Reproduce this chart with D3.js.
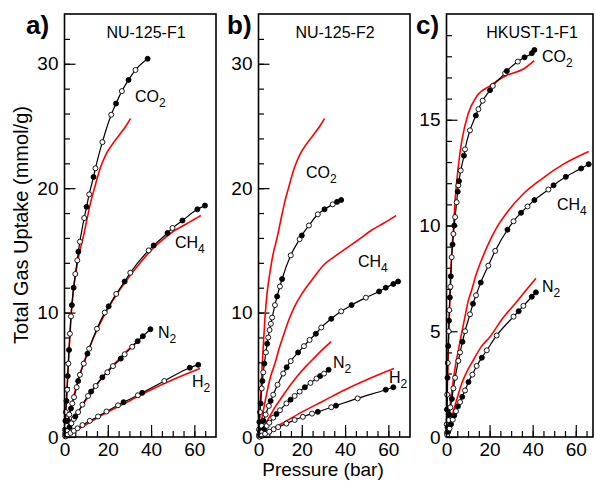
<!DOCTYPE html>
<html>
<head>
<meta charset="utf-8">
<title>Gas uptake</title>
<style>
  body { margin: 0; background: #fff; }
  svg { display: block; font-family: "Liberation Sans", Arial, sans-serif; }
  .tick text { font-size: 19px; fill: #000; }
  .tick line { stroke: #000; stroke-width: 1.2; }
</style>
</head>
<body>
<svg></svg>
<script src="https://d3js.org/d3.v7.min.js"></script>
<script>
// ---- data: [pressure (bar), uptake (mmol/g), filled?] ----
const aCO2 = [[0.2,0.6,0],[0.4,1.3,1],[0.6,2.0,0],[0.9,2.9,1],[1.2,3.8,0],[1.5,4.9,1],[1.8,5.9,0],[2.1,7.0,1],[2.5,8.3,0],[3.0,9.7,0],[3.4,10.6,1],[4.2,12.0,1],[5.0,13.1,0],[5.9,14.2,0],[6.4,14.9,1],[7.1,15.7,0],[9.1,17.6,0],[10.2,18.5,1],[11.4,19.5,0],[13.4,20.9,1],[14.3,21.6,0],[17.5,23.7,0],[21.6,25.9,0],[23.8,26.8,1],[26.5,27.8,0],[29.6,28.7,1],[32.8,29.5,0],[38.4,30.4,1]];
const aCH4 = [[0.3,0.3,0],[0.7,0.6,1],[1.1,0.9,0],[1.6,1.3,1],[2.2,1.8,0],[3.0,2.3,1],[3.6,2.7,0],[4.4,3.2,0],[5.6,4.0,0],[6.3,4.5,1],[7.1,5.0,0],[8.9,5.9,0],[10.6,6.7,1],[11.4,7.1,0],[15.0,8.7,0],[18.6,10.0,0],[20.4,10.5,1],[23.9,11.5,0],[27.8,12.5,1],[30.4,13.2,0],[38.9,15.0,0],[41.2,15.4,1],[47.6,16.4,1],[49.9,16.8,0],[54.5,17.4,1],[61.4,18.3,1],[64.9,18.6,1]];
const aN2 = [[0.3,0.1,0],[0.8,0.3,1],[1.5,0.5,0],[2.3,0.8,1],[3.2,1.1,0],[4.3,1.45,0],[5.0,1.65,1],[6.3,2.0,0],[8.3,2.6,0],[10.9,3.3,0],[12.3,3.65,1],[14.4,4.1,0],[17.5,4.8,1],[19.8,5.2,0],[22.4,5.7,0],[26.0,6.3,1],[27.8,6.65,0],[31.3,7.25,0],[33.8,7.7,1],[36.2,8.1,1],[39.7,8.66,1]];
const aH2 = [[0.5,0.05,0],[1.5,0.18,0],[2.8,0.33,0],[4.3,0.5,0],[6.0,0.7,0],[8.3,0.96,0],[11.7,1.3,0],[15.5,1.65,0],[19.4,2.05,0],[24.7,2.55,0],[27.3,2.8,1],[33.9,3.35,0],[35.9,3.55,1],[46.1,4.5,0],[57.9,5.57,1],[61.8,5.8,1]];

const bCO2 = [[0.2,0.6,0],[0.4,1.2,1],[0.7,2.0,0],[1.0,2.7,1],[1.5,3.9,0],[1.8,4.5,1],[2.2,5.2,0],[2.7,5.9,1],[3.4,6.8,0],[4.0,7.5,1],[4.5,8.0,0],[5.1,8.6,0],[5.7,9.1,0],[6.3,9.6,0],[7.6,10.6,0],[8.6,11.3,1],[9.9,12.1,0],[10.9,12.7,1],[14.9,14.6,0],[19.0,15.9,0],[20.0,16.2,1],[23.3,17.0,0],[27.4,17.9,0],[30.5,18.3,1],[34.3,18.7,0],[36.3,18.9,1],[38.2,19.05,1]];
const bCH4 = [[0.3,0.2,0],[0.8,0.5,1],[1.5,0.9,0],[2.3,1.3,1],[3.3,1.8,0],[4.8,2.5,0],[5.6,2.9,1],[6.8,3.4,0],[8.8,4.2,0],[11.4,5.1,0],[13.0,5.6,1],[14.9,6.1,0],[18.3,6.8,1],[21.0,7.3,0],[23.6,7.8,0],[26.5,8.3,1],[29.0,8.8,0],[33.6,9.5,1],[38.2,10.1,0],[43.0,10.6,1],[49.6,11.2,0],[55.7,11.7,1],[58.8,12.0,1],[62.3,12.3,1],[64.5,12.5,1]];
const bN2 = [[0.3,0.05,0],[0.9,0.2,1],[1.7,0.4,0],[2.7,0.65,1],[3.8,0.9,0],[5.0,1.15,0],[6.8,1.55,0],[8.3,1.85,1],[9.9,2.15,0],[12.9,2.7,0],[14.8,3.0,1],[16.7,3.3,0],[19.0,3.65,0],[21.4,4.0,1],[24.0,4.35,0],[26.8,4.7,0],[28.5,4.9,1],[30.3,5.1,0],[32.4,5.4,1]];
const bH2 = [[0.5,0.03,0],[1.5,0.1,0],[3.0,0.25,0],[5.0,0.43,0],[7.0,0.62,0],[9.1,0.8,0],[12.9,1.08,0],[16.7,1.37,0],[20.5,1.62,0],[24.7,1.88,0],[27.4,2.02,1],[33.6,2.39,0],[35.8,2.52,1],[45.8,3.1,0],[58.8,3.8,1],[62.3,4.0,1]];

const cCO2 = [[0.1,0.6,0],[0.2,1.3,1],[0.3,2.0,0],[0.45,2.8,1],[0.6,3.5,0],[0.8,4.3,1],[1.0,5.0,0],[1.15,5.5,1],[1.3,6.0,0],[1.55,6.6,1],[1.8,7.1,0],[2.0,7.6,1],[2.4,8.5,0],[2.8,9.1,1],[3.2,9.6,0],[3.6,10.0,1],[4.0,10.4,0],[4.7,11.1,0],[5.2,11.6,1],[5.5,11.9,0],[5.8,12.1,1],[6.6,12.6,0],[8.1,13.3,1],[8.6,13.6,0],[10.9,14.5,0],[13.6,15.2,1],[14.8,15.5,0],[16.8,15.9,0],[20.2,16.4,1],[21.5,16.6,0],[27.2,17.2,0],[28.0,17.3,1],[33.1,17.75,0],[36.2,17.95,1],[39.6,18.15,1],[40.8,18.3,1]];
const cCH4 = [[0.2,0.2,0],[0.5,0.45,1],[0.9,0.8,0],[1.3,1.05,1],[1.8,1.4,0],[2.5,1.8,1],[3.2,2.3,0],[4.0,2.8,0],[5.5,3.6,0],[6.3,4.0,0],[7.4,4.5,1],[8.6,5.0,0],[10.9,5.8,0],[12.3,6.3,1],[13.7,6.7,0],[15.9,7.3,1],[19.4,8.1,0],[22.6,8.8,0],[28.3,9.8,1],[31.1,10.2,0],[34.6,10.6,1],[37.6,10.9,0],[40.8,11.2,1],[47.3,11.7,0],[49.7,11.9,1],[55.4,12.3,1],[62.5,12.7,1],[66.0,12.9,1]];
const cN2 = [[0.3,0.1,0],[0.8,0.25,1],[1.4,0.4,0],[2.1,0.6,1],[2.9,0.82,0],[3.6,1.02,1],[4.4,1.22,0],[5.3,1.45,1],[6.3,1.65,0],[7.3,1.9,1],[8.6,2.2,0],[10.2,2.6,1],[12.0,2.95,0],[14.0,3.36,0],[16.4,3.75,1],[18.7,4.1,0],[23.3,4.8,0],[31.1,5.69,0],[33.5,5.95,1],[35.7,6.2,0],[39.6,6.63,1],[41.5,6.84,1]];

// simulated isotherms (red): [pressure, uptake]
const simCO2 = [[0,0],[1,3.3],[2,6.7],[3,9.6],[4,11.6],[5,12.9],[6,14.0],[7,14.9],[8.3,15.8],[10.5,17.6],[12,18.8],[14,20.1],[16.5,21.6],[19.4,22.8],[22,23.5],[25,24.2],[28,24.9],[30.5,25.6]];
const simCH4a = [[0,0],[2,1.6],[4,3.1],[6,4.4],[8,5.5],[10,6.5],[12,7.4],[15,8.6],[20,10.3],[25,11.7],[30,12.9],[35,14.0],[40,15.0],[45,15.8],[50,16.5],[55,17.0],[60,17.5],[63,17.8]];
const simCH4b = [[0,0],[2,1.9],[3.8,3.5],[5.5,4.8],[7.6,5.9],[9.5,7.1],[11.4,8.1],[14,9.4],[16.7,10.5],[20,11.5],[25.9,12.9],[30,13.8],[35.1,14.5],[40,15.1],[46.6,15.9],[52,16.6],[58,17.2],[63.6,17.8]];
const simN2 = [[0,0],[2,0.65],[4,1.3],[6,1.9],[8,2.5],[10,3.0],[14,4.0],[18,4.9],[22,5.7],[26,6.4],[30,7.1],[33.6,7.66]];
const simH2 = [[0,0],[5,0.5],[10,1.0],[20,2.0],[30,2.9],[40,3.8],[50,4.6],[62.6,5.5]];
const cSimCO2 = [[0,0],[0.5,2.8],[1.0,4.7],[1.3,5.6],[1.95,7.7],[2.5,8.8],[3.2,9.8],[4.0,11.2],[5.5,12.8],[7.1,14.0],[10.1,15.3],[14,16.1],[20.2,16.6],[28,17.1],[35.7,17.4],[40.7,17.8]];
const cSimCH4 = [[0,0],[1,0.9],[2,1.8],[3.2,2.7],[4.2,3.4],[5.5,4.1],[7,4.9],[8.6,5.7],[10,6.4],[11.7,6.95],[13.5,7.6],[15.6,8.2],[18,8.8],[20.2,9.3],[23.3,9.9],[28.7,10.7],[35.7,11.5],[43.5,12.15],[54.3,12.9],[66,13.5]];
const cSimN2 = [[0,0],[2,0.8],[4,1.5],[7.1,2.54],[10,3.2],[12.5,3.64],[16,4.25],[20.2,4.74],[26,5.6],[32.6,6.4],[37,6.95],[41.5,7.5]];

const xTicks = [0, 20, 40, 60];
const xMinor = d3.range(0, 70, 5);

// ---- layout ----
const width = 596, height = 481;
const yTop = 14, yBottom = 437;

const panels = [
  { tag: 'a)', title: 'NU-125-F1', left: 64.5, right: 216, xMax: 70, yMax: 34, yTicks: [0,10,20,30], yMinor: d3.range(0, 34, 2),
    tagX: 26, titleX: 146,
    sets: [
      { exp: aCO2, sim: simCO2, name: 'CO', sub: '2', lx: 135, ly: 102 },
      { exp: aCH4, sim: simCH4a, name: 'CH', sub: '4', lx: 175, ly: 248 },
      { exp: aN2, sim: simN2, name: 'N', sub: '2', lx: 158, ly: 338 },
      { exp: aH2, sim: simH2, name: 'H', sub: '2', lx: 192, ly: 387 }
    ] },
  { tag: 'b)', title: 'NU-125-F2', left: 258.5, right: 410, xMax: 70, yMax: 34, yTicks: [0,10,20,30], yMinor: d3.range(0, 34, 2),
    tagX: 227, titleX: 335,
    sets: [
      { exp: bCO2, sim: simCO2, name: 'CO', sub: '2', lx: 306, ly: 178 },
      { exp: bCH4, sim: simCH4b, name: 'CH', sub: '4', lx: 358, ly: 267 },
      { exp: bN2, sim: simN2, name: 'N', sub: '2', lx: 333, ly: 368 },
      { exp: bH2, sim: simH2, name: 'H', sub: '2', lx: 389, ly: 383 }
    ] },
  { tag: 'c)', title: 'HKUST-1-F1', left: 446.5, right: 593, xMax: 68, yMax: 20, yTicks: [0,5,10,15], yMinor: d3.range(0, 20, 1),
    tagX: 416, titleX: 532,
    sets: [
      { exp: cCO2, sim: cSimCO2, name: 'CO', sub: '2', lx: 542, ly: 62 },
      { exp: cCH4, sim: cSimCH4, name: 'CH', sub: '4', lx: 557, ly: 210 },
      { exp: cN2, sim: cSimN2, name: 'N', sub: '2', lx: 542, ly: 292 }
    ] }
];

const svg = d3.select('svg').attr('width', width).attr('height', height);

panels.forEach(p => {
  const x = d3.scaleLinear().domain([0, p.xMax]).range([p.left, p.right]);
  const y = d3.scaleLinear().domain([0, p.yMax]).range([yBottom, yTop]);
  const g = svg.append('g');

  // minor ticks
  g.append('g').attr('transform', `translate(${p.left},0)`)
    .call(d3.axisLeft(y).tickValues(p.yMinor).tickSize(-5.5).tickFormat(''))
    .call(a => a.select('.domain').remove());
  g.append('g').attr('transform', `translate(0,${yBottom})`)
    .call(d3.axisBottom(x).tickValues(xMinor.filter(v => v < p.xMax)).tickSize(-6).tickFormat(''))
    .call(a => a.select('.domain').remove());
  // major ticks
  g.append('g').attr('transform', `translate(${p.left},0)`)
    .call(d3.axisLeft(y).tickValues(p.yTicks).tickSize(-11).tickPadding(6))
    .call(a => a.select('.domain').remove());
  g.append('g').attr('transform', `translate(0,${yBottom})`)
    .call(d3.axisBottom(x).tickValues(xTicks).tickSize(-12).tickPadding(6))
    .call(a => a.select('.domain').remove());
  g.selectAll('.tick text').attr('font-family', null);
  g.selectAll('.tick line').attr('stroke', '#000');

  const line = d3.line().curve(d3.curveMonotoneX).x(d => x(d[0])).y(d => y(d[1]));

  // simulated curves
  p.sets.forEach(s => {
    g.append('path').datum(s.sim).attr('d', line)
      .attr('fill', 'none').attr('stroke', '#ff0000').attr('stroke-width', 1.6);
  });
  // experimental curves
  p.sets.forEach(s => {
    const pts = [[0, 0, 0]].concat(s.exp).sort((m, n) => m[0] - n[0]);
    g.append('path').datum(pts).attr('d', line)
      .attr('fill', 'none').attr('stroke', '#000').attr('stroke-width', 1.2);
    g.selectAll(null).data(s.exp).enter().append('circle')
      .attr('cx', d => x(d[0])).attr('cy', d => y(d[1])).attr('r', 2.5)
      .attr('fill', d => d[2] ? '#000' : '#fff')
      .attr('stroke', '#000').attr('stroke-width', 0.9);
    const t = g.append('text').attr('x', s.lx).attr('y', s.ly)
      .attr('font-size', 16).text(s.name);
    t.append('tspan').attr('dy', 5).attr('font-size', 12).text(s.sub);
  });

  // frame
  g.append('rect').attr('x', p.left).attr('y', yTop)
    .attr('width', p.right - p.left).attr('height', yBottom - yTop)
    .attr('fill', 'none').attr('stroke', '#000').attr('stroke-width', 1.6);

  g.append('text').attr('x', p.titleX).attr('y', 38).attr('text-anchor', 'middle')
    .attr('font-size', 16).text(p.title);
  g.append('text').attr('x', p.tagX).attr('y', 34)
    .attr('font-size', 26).attr('font-weight', 'bold').text(p.tag);
});

svg.append('text').attr('transform', 'translate(28,225) rotate(-90)')
  .attr('text-anchor', 'middle').attr('font-size', 20).text('Total Gas Uptake (mmol/g)');
svg.append('text').attr('x', 323).attr('y', 476)
  .attr('text-anchor', 'middle').attr('font-size', 19).text('Pressure (bar)');
</script>
</body>
</html>
